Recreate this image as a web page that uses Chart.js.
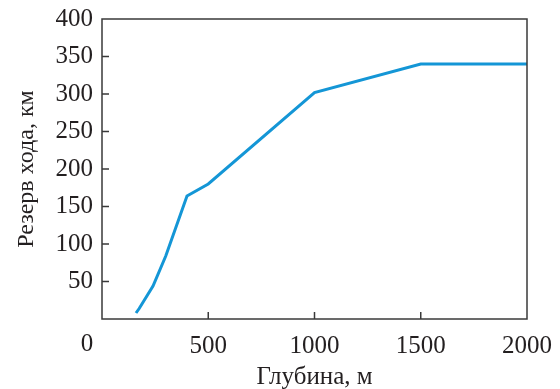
<!DOCTYPE html>
<html>
<head>
<meta charset="utf-8">
<script src="https://cdn.jsdelivr.net/npm/chart.js@4"></script>
<style>
  html, body { margin: 0; padding: 0; background: #fff; }
  #wrap { width: 560px; height: 389px; }
</style>
</head>
<body>
<div id="wrap"><canvas id="myChart"></canvas></div>
<script>
// глубина, м
let depth = [160, 175, 240, 300, 400, 500, 1000, 1500, 2000];
// резерв хода, км
let range = [8, 14, 44, 84, 164, 180, 302, 340, 340];

let xTicks = [0, 500, 1000, 1500, 2000];
let yTicks = [50, 100, 150, 200, 250, 300, 350, 400];

let points = depth.map((d, i) => ({ x: d, y: range[i] }));

const axisColor = "#3a3a3a";
const txtColor = "#231f20";
const fontFam = "'Liberation Serif', 'DejaVu Serif', serif";

// рамка и внутренние засечки
const frame = {
    id: "frame",
    afterDraw(chart) {
        let c = chart.ctx;
        let a = chart.chartArea;
        let sx = chart.scales.x;
        let sy = chart.scales.y;
        c.save();
        c.strokeStyle = axisColor;
        c.lineWidth = 1.5;
        c.strokeRect(a.left, a.top, a.right - a.left, a.bottom - a.top);
        c.beginPath();
        xTicks.forEach((v) => {
            if (v == 0 || v == 2000) return;
            let px = sx.getPixelForValue(v);
            c.moveTo(px, a.bottom);
            c.lineTo(px, a.bottom - 7);
        });
        yTicks.forEach((v) => {
            if (v == 400) return;
            let py = sy.getPixelForValue(v);
            c.moveTo(a.left, py);
            c.lineTo(a.left + 7, py);
        });
        c.stroke();
        // общий "0" в углу
        c.fillStyle = txtColor;
        c.font = "25px " + fontFam;
        c.textAlign = "center";
        c.textBaseline = "top";
        c.fillText("0", sx.getPixelForValue(0) - 15, a.bottom + 13);
        c.restore();
    }
};

let grafico = new Chart("myChart", {
    type: "line",
    data: {
        datasets: [{
            label: "Резерв хода",
            data: points,
            borderColor: "#1496d6",
            borderWidth: 3,
            pointRadius: 0,
            fill: false,
            tension: 0
        }]
    },
    options: {
        responsive: true,
        maintainAspectRatio: false,
        animation: false,
        layout: { padding: { top: 19, right: 33, left: 0, bottom: 0 } },
        plugins: {
            legend: { display: false },
            tooltip: { enabled: false }
        },
        scales: {
            x: {
                type: "linear",
                min: 0,
                max: 2000,
                afterFit(s) {
                    s.height = 70;
                    s.paddingLeft = 0;
                    s.paddingRight = 0;
                },
                afterBuildTicks(s) { s.ticks = xTicks.map((v) => ({ value: v })); },
                grid: { display: false, drawTicks: false },
                border: { display: false },
                ticks: {
                    color: txtColor,
                    font: { family: fontFam, size: 25 },
                    padding: 12,
                    maxRotation: 0,
                    callback: (v) => (v == 0 ? "" : v)
                },
                title: {
                    display: true,
                    text: "Глубина, м",
                    color: txtColor,
                    font: { family: fontFam, size: 25 },
                    padding: { top: 0, bottom: -3 }
                }
            },
            y: {
                type: "linear",
                min: 0,
                max: 400,
                afterFit(s) {
                    s.width = 102;
                    s.paddingTop = 0;
                    s.paddingBottom = 0;
                },
                afterBuildTicks(s) { s.ticks = [0].concat(yTicks).map((v) => ({ value: v })); },
                grid: { display: false, drawTicks: false },
                border: { display: false },
                ticks: {
                    color: txtColor,
                    font: { family: fontFam, size: 25 },
                    padding: 9,
                    callback: (v) => (v == 0 ? "" : v)
                },
                title: {
                    display: true,
                    text: "Резерв хода, км",
                    color: txtColor,
                    font: { family: fontFam, size: 24 },
                    padding: { top: 12, bottom: 0 }
                }
            }
        }
    },
    plugins: [frame]
});
</script>
</body>
</html>
